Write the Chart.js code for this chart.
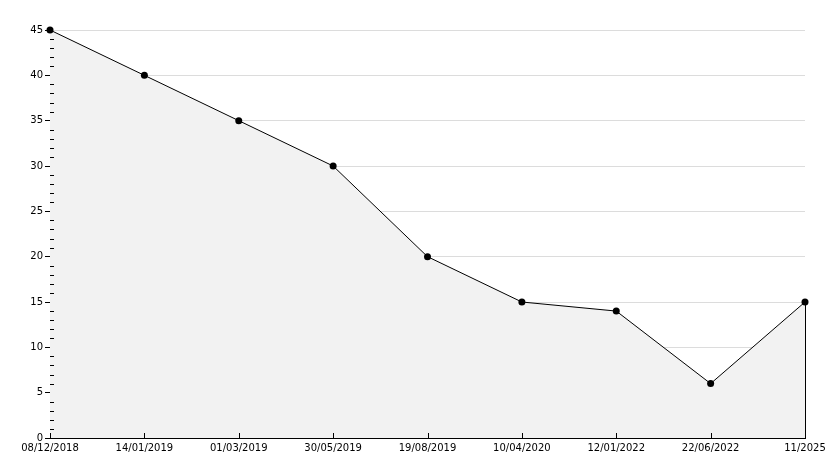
<!DOCTYPE html>
<html>
<head>
<meta charset="utf-8">
<script src="https://cdn.jsdelivr.net/npm/chart.js@4/dist/chart.umd.min.js"></script>
<style>
  html, body { margin: 0; padding: 0; background: #fff; }
  #wrap { width: 834px; height: 468px; }
</style>
</head>
<body>
<div id="wrap"><canvas id="grafico" width="834" height="468"></canvas></div>
<script>
// dados
const datas = ["08/12/2018", "14/01/2019", "01/03/2019", "30/05/2019", "19/08/2019",
               "10/04/2020", "12/01/2022", "22/06/2022", "11/2025"];
const valores = [45, 40, 35, 30, 20, 15, 14, 6, 15];
const yMin = 0, yMax = 45, yPasso = 5;

// marcas menores no eixo Y, marcas no eixo X e borda direita
const marcasExtras = {
    id: 'marcasExtras',
    afterDatasetsDraw(chart) {
        const ctx = chart.ctx;
        const x = chart.scales.x, y = chart.scales.y;
        const area = chart.chartArea;
        ctx.save();
        ctx.strokeStyle = '#000';
        ctx.lineWidth = 1;
        ctx.beginPath();
        for (let v = yMin; v < yMax; v++) {
            if (v % yPasso === 0) continue;
            const py = Math.round(y.getPixelForValue(v)) + 0.5;
            ctx.moveTo(area.left, py);
            ctx.lineTo(area.left + 4, py);
        }
        datas.forEach((d, i) => {
            const px = Math.round(x.getPixelForValue(i)) + 0.5;
            ctx.moveTo(px, area.bottom);
            ctx.lineTo(px, area.bottom - 5);
        });
        // linha vertical na última data
        const ult = valores.length - 1;
        const px = Math.round(x.getPixelForValue(ult)) + 0.5;
        ctx.moveTo(px, y.getPixelForValue(valores[ult]));
        ctx.lineTo(px, area.bottom);
        ctx.stroke();
        ctx.restore();
    }
};

Chart.defaults.font.family = 'DejaVu Sans';
Chart.defaults.font.size = 10;
Chart.defaults.color = '#000';

new Chart(document.getElementById('grafico'), {
    type: 'line',
    data: {
        labels: datas,
        datasets: [{
            data: valores,
            borderColor: '#000',
            borderWidth: 1,
            backgroundColor: '#f2f2f2',
            fill: 'origin',
            tension: 0,
            pointStyle: 'circle',
            pointRadius: 3.5,
            pointBackgroundColor: '#000',
            pointBorderColor: '#000',
            pointBorderWidth: 0,
            clip: false
        }]
    },
    options: {
        responsive: false,
        animation: false,
        events: [],
        layout: { padding: { top: 30, right: 29, left: 0, bottom: 0 } },
        plugins: { legend: { display: false }, tooltip: { enabled: false } },
        scales: {
            x: {
                offset: false,
                border: { display: true, color: '#000', width: 1 },
                grid: { display: false, drawTicks: false },
                ticks: { maxRotation: 0, autoSkip: false, padding: 4 },
                afterFit(s) { s.height = 30; }
            },
            y: {
                min: yMin,
                max: yMax,
                border: { display: true, color: '#000', width: 1 },
                grid: { color: '#dcdcdc', tickColor: '#000', tickLength: 5 },
                ticks: { stepSize: yPasso, padding: 2 },
                afterFit(s) { s.width = 50; }
            }
        }
    },
    plugins: [marcasExtras]
});
</script>
</body>
</html>
